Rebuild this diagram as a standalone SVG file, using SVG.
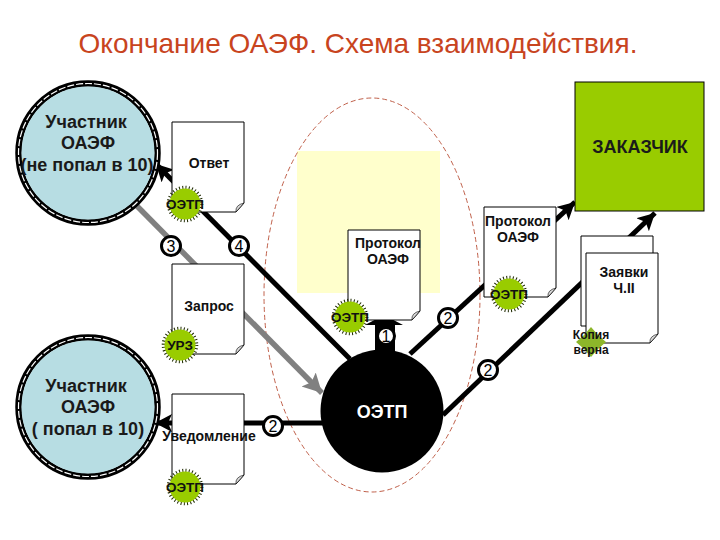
<svg xmlns="http://www.w3.org/2000/svg" width="720" height="540" viewBox="0 0 720 540">
<style>
text{font-family:"Liberation Sans",Arial,sans-serif;text-anchor:middle;fill:#000}
.t{font-size:18px;font-weight:bold;fill:#1a1a1a}
.d{font-size:14px;font-weight:bold;fill:#111}
.s{font-size:13.5px;font-weight:bold;fill:#111}
.n{font-size:16px;fill:#000}
.k{stroke:#000;stroke-width:5;fill:none}
.g{stroke:#808080;stroke-width:5.5;fill:none}
.doc{fill:#fff;stroke:#000;stroke-width:1}
.fold{fill:#d9d9d9;stroke:#000;stroke-width:.6}
.num{fill:#fff;stroke:#000;stroke-width:3}
.ring{fill:#b7dde3}
</style>
<defs>
<marker id="ak" markerUnits="userSpaceOnUse" markerWidth="20" markerHeight="20" refX="17" refY="9" orient="auto"><path d="M0 0L17 9L0 18L4 9Z" fill="#000"/></marker>
<marker id="ag" markerUnits="userSpaceOnUse" markerWidth="22" markerHeight="22" refX="19" refY="10" orient="auto"><path d="M0 0L19 10L0 20L4 10Z" fill="#808080"/></marker>
<g id="page"><path class="doc" d="M0 0H72V81L64 90H0Z"/><path class="fold" d="M72 81L64 90Q63 83 72 81Z"/></g>
<g id="seal"><circle r="16.5" fill="none" stroke="#1f2a00" stroke-width="3.6" stroke-dasharray="1 2.24"/><circle r="15.5" fill="#99cc00"/></g>
<g id="circ"><circle r="69.5" fill="none" stroke="#000" stroke-width="6.5"/><circle r="69.5" fill="none" stroke="#fff" stroke-width="1.2" stroke-dasharray="7 2"/><circle r="66.5" class="ring"/></g>
</defs>
<rect width="720" height="540" fill="#fff"/>
<text x="358" y="53" style="font-size:28px;fill:#c8441e">Окончание ОАЭФ. Схема взаимодействия.</text>
<rect id="yellow" x="297" y="151" width="143" height="142" fill="#ffffcc"/>
<ellipse id="boundary" cx="372" cy="295" rx="108" ry="197" fill="none" stroke="#c0604a" stroke-width="1" stroke-dasharray="5 3"/>
<g id="connectors">
<path class="k" d="M350 359L156 164" marker-end="url(#ak)"/>
<path class="g" d="M134 203L322 393" marker-end="url(#ag)"/>
<path class="k" d="M330 423H155" marker-end="url(#ak)"/>
<path class="k" d="M410 354L575 202" marker-end="url(#ak)"/>
<path class="k" d="M443 415L655 213" marker-end="url(#ak)"/>
<path d="M375 352V325H365L384 315L403 325H395V352Z" fill="#000"/>
</g>
<g id="node-zakazchik"><rect x="575" y="82" width="129" height="129" fill="#99cc00" stroke="#000" stroke-width="1"/><text class="t" x="640" y="153">ЗАКАЗЧИК</text></g>
<g id="node-participant-out"><use href="#circ" x="88" y="153"/><text class="t" x="86" y="128">Участник</text><text class="t" x="88" y="149">ОАЭФ</text><text class="t" x="87" y="171">(не попал в 10)</text></g>
<g id="node-participant-in"><use href="#circ" x="88" y="407"/><text class="t" x="86" y="392">Участник</text><text class="t" x="88" y="413">ОАЭФ</text><text class="t" x="88" y="435">( попал в 10)</text></g>
<g id="node-otvet"><use href="#page" x="172" y="122"/><text class="d" x="209" y="168">Ответ</text></g>
<g id="node-zapros"><use href="#page" x="172" y="264"/><text class="d" x="209" y="311">Запрос</text></g>
<g id="node-uved"><use href="#page" x="172" y="394"/><text class="d" x="209" y="441">Уведомление</text></g>
<g id="node-protocol-1"><use href="#page" x="348" y="230"/><text class="d" x="388" y="248">Протокол</text><text class="d" x="388" y="264">ОАЭФ</text></g>
<g id="node-protocol-2"><use href="#page" x="484" y="207"/><text class="d" x="518" y="226">Протокол</text><text class="d" x="518" y="242">ОАЭФ</text></g>
<g id="node-zayavki"><use href="#page" x="581" y="236"/><use href="#page" x="586" y="253"/><text class="d" x="624" y="277">Заявки</text><text class="d" x="624" y="293">Ч.II</text></g>
<g id="node-oetp"><circle cx="382" cy="411" r="61.5" fill="#000"/><text x="382" y="418" style="font-size:18px;font-weight:bold;fill:#fff">ОЭТП</text></g>
<g id="seal-1"><use href="#seal" x="185" y="204"/><text class="s" x="185" y="209">ОЭТП</text></g>
<g id="seal-2"><use href="#seal" x="180" y="345"/><text class="s" x="180" y="350">УРЗ</text></g>
<g id="seal-3"><use href="#seal" x="185" y="487"/><text class="s" x="185" y="492">ОЭТП</text></g>
<g id="seal-4"><use href="#seal" x="350" y="317"/><text class="s" x="350" y="322">ОЭТП</text></g>
<g id="seal-5"><use href="#seal" x="509" y="294"/><text class="s" x="509" y="299">ОЭТП</text></g>
<g id="stamp"><polygon points="591,327 598,335 606,342 598,349 591,357 584,349 576,342 584,335" fill="#8db62a"/><text class="d" x="591" y="339" style="font-size:12px">Копия</text><text class="d" x="591" y="354" style="font-size:12px">верна</text></g>
<g id="labels">
<g><circle class="num" cx="171" cy="246" r="9.5"/><text class="n" x="171" y="252">3</text></g>
<g><circle class="num" cx="239" cy="246" r="9.5"/><text class="n" x="239" y="252">4</text></g>
<g><circle class="num" cx="386" cy="336" r="8.5"/><text class="n" x="386" y="342">1</text></g>
<g><circle class="num" cx="448" cy="318" r="9.5"/><text class="n" x="448" y="324">2</text></g>
<g><circle class="num" cx="488" cy="370" r="9.5"/><text class="n" x="488" y="376">2</text></g>
<g><circle class="num" cx="273" cy="426" r="9.5"/><text class="n" x="273" y="432">2</text></g>
</g>
</svg>
